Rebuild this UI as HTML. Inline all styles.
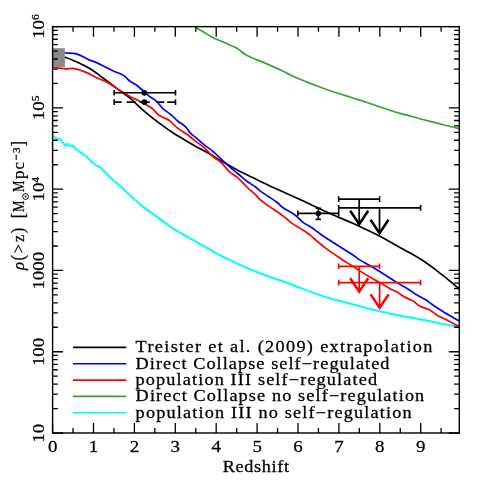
<!DOCTYPE html><html><head><meta charset="utf-8"><style>html,body{margin:0;padding:0;background:#fff}svg{display:block;will-change:transform}text{font-family:"Liberation Serif",serif;fill:#000;stroke:#000;stroke-width:0.25px}</style></head><body>
<svg width="485" height="485" viewBox="0 0 485 485">
<rect width="485" height="485" fill="#fff"/>
<g fill="none" stroke-linejoin="round" stroke-linecap="butt">
<path d="M195.2,27.2 C197.6,28.6 200.0,29.9 202.4,31.3 C205.9,33.3 209.2,35.6 212.7,37.5 C215.3,38.9 218.2,39.8 220.9,41.0 C223.7,42.2 226.4,43.4 229.2,44.7 C231.9,45.9 234.8,46.9 237.4,48.5 C240.0,50.1 242.0,52.4 244.6,54.0 C246.9,55.5 249.4,56.6 251.9,57.7 C255.3,59.2 258.8,60.5 262.2,61.9 C265.7,63.4 269.1,64.9 272.5,66.4 C275.9,67.9 279.4,69.5 282.8,71.1 C285.3,72.3 287.8,73.7 290.3,74.9 C293.7,76.5 297.1,78.0 300.6,79.5 C304.0,80.9 307.5,82.3 310.9,83.6 C314.3,84.9 317.8,86.2 321.2,87.5 C324.6,88.8 328.0,90.0 331.5,91.2 C334.9,92.4 338.4,93.4 341.9,94.5 C345.3,95.6 348.8,96.7 352.2,97.8 C355.6,98.9 359.1,99.8 362.5,100.9 C365.5,101.9 368.5,103.0 371.5,104.0 C374.4,105.0 377.4,106.0 380.3,107.0 C383.7,108.2 387.1,109.4 390.6,110.5 C394.0,111.6 397.4,112.6 400.9,113.6 C404.3,114.6 407.8,115.4 411.2,116.3 C414.6,117.2 418.1,118.3 421.5,119.2 C425.0,120.1 428.4,121.0 431.9,121.9 C435.3,122.8 438.8,123.6 442.2,124.5 C445.6,125.3 449.1,126.2 452.5,127.0 C454.8,127.6 457.0,128.1 459.3,128.7" stroke="#33a532" stroke-width="1.7"/>
<path d="M52.3,141V147" stroke="#00ffff" stroke-width="1"/>
<path d="M52.9,135.8 C54.1,136.8 55.1,138.0 56.5,138.7 C57.6,139.2 59.1,138.7 60.1,139.4 C61.4,140.3 62.0,141.9 63.0,143.0 C63.9,144.0 64.5,145.7 65.9,145.9 C66.8,146.0 66.1,143.5 67.0,143.5 C68.2,143.5 68.4,145.5 69.5,145.9 C70.4,146.2 71.5,145.1 72.4,145.5 C73.9,146.2 74.8,147.7 76.0,148.8 C77.4,150.0 78.8,151.3 80.3,152.4 C81.7,153.4 83.2,154.3 84.6,155.3 C86.1,156.4 87.6,157.6 89.0,158.9 C90.5,160.3 91.8,161.8 93.3,163.2 C94.2,164.0 95.2,164.8 96.2,165.4 C97.6,166.2 99.2,166.6 100.5,167.6 C102.1,168.8 103.4,170.5 104.8,171.9 C107.2,174.3 109.5,176.7 112.0,179.0 C114.7,181.5 117.6,183.8 120.3,186.3 C123.8,189.4 127.2,192.7 130.6,195.8 C134.0,198.9 137.3,202.2 140.9,205.1 C144.2,207.8 147.8,210.2 151.2,212.7 C154.6,215.2 158.1,217.6 161.5,220.1 C165.0,222.6 168.3,225.3 171.9,227.7 C175.2,229.9 178.7,231.9 182.2,233.9 C185.6,235.9 189.1,237.7 192.5,239.7 C195.5,241.4 198.5,243.2 201.5,244.9 C204.4,246.5 207.4,248.1 210.3,249.7 C213.7,251.6 217.1,253.7 220.6,255.5 C224.0,257.3 227.4,258.9 230.9,260.6 C234.3,262.2 237.7,263.8 241.2,265.4 C244.6,266.9 248.0,268.5 251.5,269.9 C254.9,271.3 258.4,272.7 261.9,274.0 C265.3,275.3 268.8,276.5 272.2,277.7 C275.6,278.9 279.1,280.0 282.5,281.2 C285.5,282.3 288.5,283.4 291.5,284.5 C294.4,285.6 297.4,286.8 300.3,287.9 C303.7,289.2 307.1,290.6 310.6,291.9 C314.0,293.1 317.5,294.2 320.9,295.4 C324.3,296.6 327.7,297.9 331.2,298.9 C334.6,299.9 338.1,300.4 341.5,301.3 C345.8,302.4 350.1,303.6 354.4,304.8 C359.2,306.1 364.0,307.5 368.9,308.7 C373.7,309.9 378.5,310.9 383.3,312.0 C388.1,313.1 392.9,314.2 397.7,315.2 C403.2,316.3 408.8,317.1 414.4,318.2 C419.2,319.1 424.1,320.1 428.9,321.1 C433.7,322.1 438.5,323.1 443.3,324.0 C448.6,325.0 453.9,325.9 459.2,326.9" stroke="#00ffff" stroke-width="2"/>
<path d="M53.0,54.2 C57.0,55.2 61.1,56.1 65.0,57.3 C68.2,58.3 71.3,59.5 74.4,60.9 C79.3,63.1 84.3,65.3 88.9,68.1 C93.9,71.1 98.6,74.7 103.3,78.2 C108.2,81.7 112.9,85.5 117.7,89.1 C121.8,92.2 126.1,94.9 130.0,98.2 C135.0,102.4 139.5,107.2 144.4,111.4 C149.1,115.4 154.0,119.2 158.9,122.9 C163.6,126.4 168.4,129.8 173.3,133.0 C178.0,136.1 182.9,138.8 187.7,141.7 C190.1,143.1 192.5,144.5 195.0,145.9 C199.8,148.6 204.7,151.1 209.4,153.8 C214.3,156.6 219.0,159.7 223.9,162.5 C228.6,165.2 233.5,167.9 238.3,170.4 C243.1,172.9 247.9,175.2 252.7,177.6 C255.1,178.8 257.5,180.1 260.0,181.3 C264.8,183.6 269.6,185.8 274.4,188.0 C279.2,190.2 284.1,192.3 288.9,194.5 C293.7,196.7 298.5,198.8 303.3,201.0 C308.1,203.2 312.9,205.5 317.7,207.8 C320.1,209.0 322.5,210.2 325.0,211.3 C329.8,213.5 334.6,215.5 339.4,217.6 C344.2,219.7 349.1,221.6 353.9,223.8 C358.7,226.0 363.5,228.3 368.3,230.6 C373.1,232.9 378.0,235.3 382.7,237.8 C386.9,240.0 390.9,242.5 395.0,244.8 C399.8,247.4 404.7,249.9 409.4,252.6 C414.3,255.4 419.2,258.2 423.9,261.3 C428.8,264.6 433.6,268.2 438.3,271.8 C443.2,275.5 448.0,279.4 452.7,283.3 C454.9,285.1 457.0,287.1 459.2,289.0" stroke="#000" stroke-width="1.7"/>
<path d="M53.0,52.2 C57.0,52.5 61.0,52.7 65.0,53.0 C69.1,53.3 73.3,53.0 77.3,54.1 C81.5,55.3 84.9,58.2 88.9,59.9 C91.2,60.9 93.8,61.4 96.1,62.4 C98.6,63.4 100.9,64.8 103.3,66.0 C106.7,67.7 110.0,69.4 113.4,71.0 C116.7,72.5 120.4,73.5 123.5,75.4 C126.0,76.9 127.7,79.5 130.0,81.2 C131.9,82.6 134.1,83.4 136.0,84.8 C138.2,86.4 140.2,88.2 142.3,90.0 C144.5,91.9 146.5,94.0 148.8,95.8 C151.1,97.6 153.8,98.8 156.0,100.8 C158.7,103.2 160.6,106.4 163.2,108.8 C165.8,111.2 169.1,113.0 171.8,115.3 C173.9,117.1 175.5,119.3 177.6,121.0 C180.1,123.1 183.2,124.5 185.6,126.8 C187.6,128.7 188.7,131.3 190.6,133.3 C191.9,134.7 193.6,135.7 195.0,136.9 C197.9,139.4 200.7,142.0 203.7,144.4 C206.5,146.7 209.5,148.6 212.3,150.9 C215.3,153.4 218.1,156.2 221.0,158.9 C223.9,161.5 226.7,164.2 229.6,166.8 C232.4,169.3 235.4,171.6 238.3,174.0 C241.2,176.4 243.9,179.0 246.9,181.2 C249.7,183.3 252.8,184.9 255.6,187.0 C257.2,188.2 258.4,189.7 260.0,190.9 C262.8,193.0 265.8,194.8 268.7,196.7 C271.6,198.6 274.6,200.4 277.3,202.5 C279.4,204.1 281.0,206.3 283.1,207.8 C286.8,210.4 291.0,212.0 294.6,214.7 C297.8,217.0 300.2,220.3 303.3,222.7 C306.0,224.7 309.1,225.9 311.9,227.7 C314.9,229.7 317.7,232.1 320.6,234.2 C322.0,235.2 323.5,236.2 325.0,237.2 C330.7,240.9 336.5,244.6 342.3,248.3 C345.9,250.6 349.5,252.7 353.0,255.0 C355.3,256.5 357.3,258.4 359.6,259.9 C362.6,261.8 365.8,263.3 368.9,265.1 C373.7,267.9 378.5,270.8 383.3,273.8 C388.1,276.8 392.8,280.1 397.7,283.1 C401.3,285.3 405.1,287.2 408.7,289.4 C411.2,290.9 413.4,292.9 415.9,294.4 C418.9,296.3 422.3,297.6 425.3,299.5 C428.1,301.2 430.5,303.5 433.2,305.3 C436.5,307.5 439.9,309.6 443.3,311.7 C446.1,313.4 449.0,315.1 451.9,316.8 C454.3,318.2 456.8,319.7 459.2,321.1" stroke="#0000ff" stroke-width="1.7"/>
<path d="M53.0,67.5 C55.3,67.7 57.7,67.8 60.0,68.1 C61.9,68.3 63.8,68.8 65.8,68.9 C68.7,69.0 71.6,68.1 74.4,68.6 C78.9,69.4 83.2,71.2 87.4,72.9 C90.4,74.1 93.1,76.1 96.1,77.5 C99.4,79.1 103.0,80.1 106.2,81.8 C110.2,83.9 113.8,86.7 117.7,89.1 C121.8,91.6 125.8,94.1 130.0,96.4 C132.8,98.0 135.8,99.3 138.7,100.8 C143.0,103.1 147.6,105.1 151.6,108.0 C154.4,110.0 156.1,113.3 158.9,115.3 C162.0,117.5 165.9,118.2 169.0,120.3 C172.2,122.5 174.5,125.8 177.6,128.2 C180.8,130.6 184.5,132.4 187.7,134.7 C190.3,136.6 192.5,138.8 195.0,140.8 C197.8,143.0 201.0,144.9 203.7,147.3 C206.8,150.0 209.2,153.3 212.3,156.0 C215.0,158.4 218.3,160.1 221.0,162.5 C224.1,165.3 226.5,169.0 229.6,171.8 C232.3,174.2 235.6,175.9 238.3,178.3 C241.4,181.0 244.0,184.2 246.9,187.0 C249.7,189.7 252.8,192.2 255.6,194.9 C257.1,196.4 258.4,198.2 260.0,199.6 C262.8,202.0 265.7,204.0 268.7,206.1 C271.5,208.1 274.5,209.8 277.3,211.8 C280.3,213.9 283.2,216.1 286.0,218.3 C288.0,219.8 289.7,221.7 291.7,223.1 C294.5,225.0 297.5,226.6 300.4,228.4 C303.3,230.3 306.3,232.1 309.1,234.2 C311.4,236.0 313.4,238.1 315.6,240.0 C318.7,242.6 321.8,245.2 325.0,247.6 C329.7,251.1 334.5,254.4 339.4,257.7 C344.3,261.0 349.4,264.1 354.4,267.3 C359.2,270.4 364.0,273.7 368.9,276.6 C373.6,279.4 378.5,281.9 383.3,284.6 C385.7,286.0 388.0,287.6 390.5,288.9 C392.9,290.2 395.4,291.2 397.7,292.5 C399.8,293.7 401.7,295.4 403.8,296.6 C406.1,297.9 408.6,298.9 411.0,300.0 C411.7,300.3 412.4,300.5 413.0,300.9 C415.2,302.5 417.1,304.7 419.5,306.0 C422.4,307.6 425.9,308.0 428.9,309.6 C432.0,311.2 434.5,313.7 437.5,315.4 C440.8,317.3 444.3,318.7 447.6,320.4 C451.5,322.4 455.3,324.5 459.2,326.5" stroke="#ff0000" stroke-width="1.7"/>
</g>
<rect x="53" y="48.2" width="11.9" height="18.7" fill="#8a8a8a"/>
<path d="M52.60,433.00V423.00M52.60,26.65V36.65M73.05,433.00V428.00M73.05,26.65V31.65M93.50,433.00V423.00M93.50,26.65V36.65M113.95,433.00V428.00M113.95,26.65V31.65M134.40,433.00V423.00M134.40,26.65V36.65M154.85,433.00V428.00M154.85,26.65V31.65M175.30,433.00V423.00M175.30,26.65V36.65M195.75,433.00V428.00M195.75,26.65V31.65M216.20,433.00V423.00M216.20,26.65V36.65M236.65,433.00V428.00M236.65,26.65V31.65M257.10,433.00V423.00M257.10,26.65V36.65M277.55,433.00V428.00M277.55,26.65V31.65M298.00,433.00V423.00M298.00,26.65V36.65M318.45,433.00V428.00M318.45,26.65V31.65M338.90,433.00V423.00M338.90,26.65V36.65M359.35,433.00V428.00M359.35,26.65V31.65M379.80,433.00V423.00M379.80,26.65V36.65M400.25,433.00V428.00M400.25,26.65V31.65M420.70,433.00V423.00M420.70,26.65V36.65M441.15,433.00V428.00M441.15,26.65V31.65M52.60,433.00H63.10M459.30,433.00H448.80M52.60,408.54H57.80M459.30,408.54H454.10M52.60,394.22H57.80M459.30,394.22H454.10M52.60,384.07H57.80M459.30,384.07H454.10M52.60,376.19H57.80M459.30,376.19H454.10M52.60,369.76H57.80M459.30,369.76H454.10M52.60,364.32H57.80M459.30,364.32H454.10M52.60,359.61H57.80M459.30,359.61H454.10M52.60,355.45H57.80M459.30,355.45H454.10M52.60,351.73H63.10M459.30,351.73H448.80M52.60,327.27H57.80M459.30,327.27H454.10M52.60,312.95H57.80M459.30,312.95H454.10M52.60,302.80H57.80M459.30,302.80H454.10M52.60,294.92H57.80M459.30,294.92H454.10M52.60,288.49H57.80M459.30,288.49H454.10M52.60,283.05H57.80M459.30,283.05H454.10M52.60,278.34H57.80M459.30,278.34H454.10M52.60,274.18H57.80M459.30,274.18H454.10M52.60,270.46H63.10M459.30,270.46H448.80M52.60,246.00H57.80M459.30,246.00H454.10M52.60,231.68H57.80M459.30,231.68H454.10M52.60,221.53H57.80M459.30,221.53H454.10M52.60,213.65H57.80M459.30,213.65H454.10M52.60,207.22H57.80M459.30,207.22H454.10M52.60,201.78H57.80M459.30,201.78H454.10M52.60,197.07H57.80M459.30,197.07H454.10M52.60,192.91H57.80M459.30,192.91H454.10M52.60,189.19H63.10M459.30,189.19H448.80M52.60,164.73H57.80M459.30,164.73H454.10M52.60,150.41H57.80M459.30,150.41H454.10M52.60,140.26H57.80M459.30,140.26H454.10M52.60,132.38H57.80M459.30,132.38H454.10M52.60,125.95H57.80M459.30,125.95H454.10M52.60,120.51H57.80M459.30,120.51H454.10M52.60,115.80H57.80M459.30,115.80H454.10M52.60,111.64H57.80M459.30,111.64H454.10M52.60,107.92H63.10M459.30,107.92H448.80M52.60,83.46H57.80M459.30,83.46H454.10M52.60,69.14H57.80M459.30,69.14H454.10M52.60,58.99H57.80M459.30,58.99H454.10M52.60,51.11H57.80M459.30,51.11H454.10M52.60,44.68H57.80M459.30,44.68H454.10M52.60,39.24H57.80M459.30,39.24H454.10M52.60,34.53H57.80M459.30,34.53H454.10M52.60,30.37H57.80M459.30,30.37H454.10M52.60,26.65H63.10M459.30,26.65H448.80" stroke="#000" stroke-width="1.3" fill="none"/>
<rect x="52.60" y="26.65" width="406.70" height="406.35" fill="none" stroke="#000" stroke-width="1.4"/>
<path d="M114.2,92.8H175.5" stroke="#000" stroke-width="1.6" fill="none"/><path d="M114.2,90.0V95.6M175.5,90.0V95.6" stroke="#000" stroke-width="1.6" fill="none"/>
<path d="M114.2,102.1H175.5" stroke="#000" stroke-width="1.6" fill="none" stroke-dasharray="7.5 5 8.7 4.3 10 6.5 8 3 9"/><path d="M114.2,99.3V104.9M175.5,99.3V104.9" stroke="#000" stroke-width="1.6" fill="none"/>
<circle cx="144.4" cy="92.8" r="2.9"/><circle cx="144.4" cy="102.1" r="2.9"/>
<path d="M297.8,213.4H338.7" stroke="#000" stroke-width="1.6" fill="none"/><path d="M297.8,210.6V216.2M338.7,210.6V216.2" stroke="#000" stroke-width="1.6" fill="none"/>
<path d="M318.3,208.3V219.4M315.6,208.3H321M315.6,219.4H321" stroke="#000" stroke-width="1.6" fill="none"/>
<circle cx="318.3" cy="213.4" r="2.7"/>
<path d="M338.7,199.1H379.6" stroke="#000" stroke-width="1.6" fill="none"/><path d="M338.7,196.3V201.9M379.6,196.3V201.9" stroke="#000" stroke-width="1.6" fill="none"/><path d="M359.2,199.1V225.0" stroke="#000" stroke-width="1.7" fill="none"/><path d="M350.2,210.8L359.2,224.2L368.2,210.8" stroke="#000" stroke-width="2.5" fill="none" stroke-linejoin="miter" stroke-miterlimit="10"/>
<path d="M338.7,207.9H420.6" stroke="#000" stroke-width="1.6" fill="none"/><path d="M338.7,205.1V210.7M420.6,205.1V210.7" stroke="#000" stroke-width="1.6" fill="none"/><path d="M379.5,207.9V234.0" stroke="#000" stroke-width="1.7" fill="none"/><path d="M370.5,219.8L379.5,233.2L388.5,219.8" stroke="#000" stroke-width="2.5" fill="none" stroke-linejoin="miter" stroke-miterlimit="10"/>
<path d="M338.7,266.4H379.5" stroke="#ff0000" stroke-width="1.6" fill="none"/><path d="M338.7,263.6V269.2M379.5,263.6V269.2" stroke="#ff0000" stroke-width="1.6" fill="none"/><path d="M359.2,266.4V292.4" stroke="#ff0000" stroke-width="1.7" fill="none"/><path d="M350.2,278.2L359.2,291.6L368.2,278.2" stroke="#ff0000" stroke-width="2.5" fill="none" stroke-linejoin="miter" stroke-miterlimit="10"/>
<path d="M338.7,282.6H420.6" stroke="#ff0000" stroke-width="1.6" fill="none"/><path d="M338.7,279.8V285.4M420.6,279.8V285.4" stroke="#ff0000" stroke-width="1.6" fill="none"/><path d="M379.6,282.6V308.6" stroke="#ff0000" stroke-width="1.7" fill="none"/><path d="M370.6,294.4L379.6,307.8L388.6,294.4" stroke="#ff0000" stroke-width="2.5" fill="none" stroke-linejoin="miter" stroke-miterlimit="10"/>
<path d="M72.9,347.4H126.3" stroke="#000" stroke-width="1.6" fill="none"/>
<text transform="translate(135.6,352.3) scale(1.14,1)" font-size="16" textLength="260.4" lengthAdjust="spacing">Treister et al. (2009) extrapolation</text>
<path d="M72.9,363.7H126.3" stroke="#0000ff" stroke-width="1.6" fill="none"/>
<text transform="translate(135.6,368.6) scale(1.14,1)" font-size="16" textLength="222.7" lengthAdjust="spacing">Direct Collapse self−regulated</text>
<path d="M72.9,380.1H126.3" stroke="#ff0000" stroke-width="1.6" fill="none"/>
<text transform="translate(135.6,385.0) scale(1.14,1)" font-size="16" textLength="211.8" lengthAdjust="spacing">population III self−regulated</text>
<path d="M72.9,396.4H126.3" stroke="#33a532" stroke-width="1.6" fill="none"/>
<text transform="translate(135.6,401.3) scale(1.14,1)" font-size="16" textLength="253.2" lengthAdjust="spacing">Direct Collapse no self−regulation</text>
<path d="M72.9,412.7H126.3" stroke="#00ffff" stroke-width="1.6" fill="none"/>
<text transform="translate(135.6,417.6) scale(1.14,1)" font-size="16" textLength="242.1" lengthAdjust="spacing">population III no self−regulation</text>
<text transform="translate(52.6,452.4) scale(1.14,1)" font-size="16.6" text-anchor="middle">0</text>
<text transform="translate(93.5,452.4) scale(1.14,1)" font-size="16.6" text-anchor="middle">1</text>
<text transform="translate(134.4,452.4) scale(1.14,1)" font-size="16.6" text-anchor="middle">2</text>
<text transform="translate(175.3,452.4) scale(1.14,1)" font-size="16.6" text-anchor="middle">3</text>
<text transform="translate(216.2,452.4) scale(1.14,1)" font-size="16.6" text-anchor="middle">4</text>
<text transform="translate(257.1,452.4) scale(1.14,1)" font-size="16.6" text-anchor="middle">5</text>
<text transform="translate(298.0,452.4) scale(1.14,1)" font-size="16.6" text-anchor="middle">6</text>
<text transform="translate(338.9,452.4) scale(1.14,1)" font-size="16.6" text-anchor="middle">7</text>
<text transform="translate(379.8,452.4) scale(1.14,1)" font-size="16.6" text-anchor="middle">8</text>
<text transform="translate(420.7,452.4) scale(1.14,1)" font-size="16.6" text-anchor="middle">9</text>
<text transform="translate(255.8,472) scale(1.14,1)" font-size="16" text-anchor="middle" textLength="58.2" lengthAdjust="spacing">Redshift</text>
<g transform="translate(44.1,432.7) rotate(-90)"><text transform="translate(-9.95,0) scale(1.14,1)" font-size="16.6">10</text></g>
<g transform="translate(44.1,351.4) rotate(-90)"><text transform="translate(-14.68,0) scale(1.14,1)" font-size="16.6">100</text></g>
<g transform="translate(44.1,270.2) rotate(-90)"><text transform="translate(-19.41,0) scale(1.14,1)" font-size="16.6">1000</text></g>
<g transform="translate(44.1,188.2) rotate(-90)"><text transform="translate(-13.25,0) scale(1.14,1)" font-size="16.6">10</text><text transform="translate(5.55,-5.4) scale(1.14,1)" font-size="10">4</text></g>
<g transform="translate(44.1,106.9) rotate(-90)"><text transform="translate(-13.25,0) scale(1.14,1)" font-size="16.6">10</text><text transform="translate(5.55,-5.4) scale(1.14,1)" font-size="10">5</text></g>
<g transform="translate(44.1,25.6) rotate(-90)"><text transform="translate(-13.25,0) scale(1.14,1)" font-size="16.6">10</text><text transform="translate(5.55,-5.4) scale(1.14,1)" font-size="10">6</text></g>
<g transform="translate(24.3,269.8) rotate(-90)"><text transform="translate(3.90,0.00) scale(1.05,1)" font-size="16" text-anchor="middle" font-style="italic">ρ</text><text transform="translate(11.90,-0.40) scale(0.9,1)" font-size="18.1" text-anchor="middle">(</text><text transform="translate(20.95,0.00) scale(1.0,1)" font-size="16" text-anchor="middle">&gt;</text><text transform="translate(31.35,0.00) scale(1.0,1)" font-size="16" text-anchor="middle">z</text><text transform="translate(39.25,-0.40) scale(0.9,1)" font-size="18.1" text-anchor="middle">)</text><text transform="translate(54.15,-0.40) scale(0.9,1)" font-size="18.1" text-anchor="middle">[</text><text transform="translate(63.40,0.00) scale(0.8,1)" font-size="16" text-anchor="middle">M</text><circle cx="73.3" cy="1.3" r="2.9" fill="none" stroke="#000" stroke-width="1"/><circle cx="73.3" cy="1.3" r="0.9"/><text transform="translate(83.40,0.00) scale(0.8,1)" font-size="16" text-anchor="middle">M</text><text transform="translate(94.95,0.00) scale(1.05,1)" font-size="16" text-anchor="middle">p</text><text transform="translate(103.95,0.00) scale(1.05,1)" font-size="16" text-anchor="middle">c</text><path d="M109.7,-8.1H115.4" stroke="#000" stroke-width="1.1"/><text transform="translate(119.55,-4.80) scale(1.1,1)" font-size="10.3" text-anchor="middle">3</text><text transform="translate(126.00,-0.40) scale(0.9,1)" font-size="18.1" text-anchor="middle">]</text></g>
</svg></body></html>
